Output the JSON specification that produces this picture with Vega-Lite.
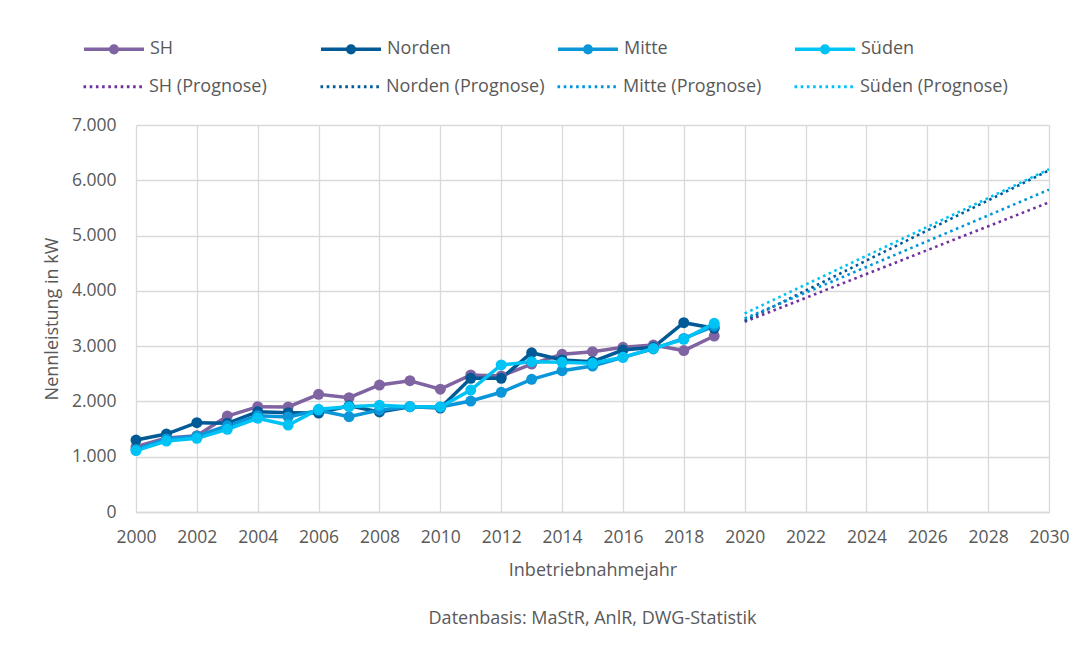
{
  "$schema": "https://vega.github.io/schema/vega-lite/v6.json",
  "width": 913,
  "height": 387,
  "autosize": "none",
  "padding": {"left": 136, "top": 125, "right": 34, "bottom": 140},
  "background": "white",
  "title": {"text": "Datenbasis: MaStR, AnlR, DWG-Statistik", "orient": "bottom", "anchor": "middle", "offset": 30, "fontSize": 18, "fontWeight": "normal", "color": "#595959", "font": "Open Sans"},
  "config": {
    "font": "Open Sans",
    "view": {"stroke": null},
    "axis": {"labelFont": "Open Sans", "titleFont": "Open Sans", "labelFontSize": 17.5, "titleFontSize": 18, "labelColor": "#595959", "titleColor": "#595959", "titleFontWeight": "normal", "gridColor": "#d9d9d9", "gridWidth": 1.3, "domainColor": "#d9d9d9", "domainWidth": 1.3},
    "legend": {"labelFont": "Open Sans", "labelFontSize": 18, "labelColor": "#595959"}
  },
  "datasets": {
    "hist": [
      {"year": 2000, "series": "SH", "kw": 1180}, {"year": 2001, "series": "SH", "kw": 1340}, {"year": 2002, "series": "SH", "kw": 1380}, {"year": 2003, "series": "SH", "kw": 1736}, {"year": 2004, "series": "SH", "kw": 1905},
      {"year": 2005, "series": "SH", "kw": 1900}, {"year": 2006, "series": "SH", "kw": 2128}, {"year": 2007, "series": "SH", "kw": 2067}, {"year": 2008, "series": "SH", "kw": 2297}, {"year": 2009, "series": "SH", "kw": 2375},
      {"year": 2010, "series": "SH", "kw": 2222}, {"year": 2011, "series": "SH", "kw": 2480}, {"year": 2012, "series": "SH", "kw": 2460}, {"year": 2013, "series": "SH", "kw": 2675}, {"year": 2014, "series": "SH", "kw": 2852},
      {"year": 2015, "series": "SH", "kw": 2900}, {"year": 2016, "series": "SH", "kw": 2980}, {"year": 2017, "series": "SH", "kw": 3020}, {"year": 2018, "series": "SH", "kw": 2920}, {"year": 2019, "series": "SH", "kw": 3183},
      {"year": 2000, "series": "Norden", "kw": 1302}, {"year": 2001, "series": "Norden", "kw": 1410}, {"year": 2002, "series": "Norden", "kw": 1615}, {"year": 2003, "series": "Norden", "kw": 1605}, {"year": 2004, "series": "Norden", "kw": 1815},
      {"year": 2005, "series": "Norden", "kw": 1797}, {"year": 2006, "series": "Norden", "kw": 1790}, {"year": 2007, "series": "Norden", "kw": 1920}, {"year": 2008, "series": "Norden", "kw": 1810}, {"year": 2009, "series": "Norden", "kw": 1905},
      {"year": 2010, "series": "Norden", "kw": 1880}, {"year": 2011, "series": "Norden", "kw": 2418}, {"year": 2012, "series": "Norden", "kw": 2418}, {"year": 2013, "series": "Norden", "kw": 2880}, {"year": 2014, "series": "Norden", "kw": 2750},
      {"year": 2015, "series": "Norden", "kw": 2720}, {"year": 2016, "series": "Norden", "kw": 2930}, {"year": 2017, "series": "Norden", "kw": 2980}, {"year": 2018, "series": "Norden", "kw": 3424}, {"year": 2019, "series": "Norden", "kw": 3323},
      {"year": 2000, "series": "Mitte", "kw": 1130}, {"year": 2001, "series": "Mitte", "kw": 1320}, {"year": 2002, "series": "Mitte", "kw": 1370}, {"year": 2003, "series": "Mitte", "kw": 1560}, {"year": 2004, "series": "Mitte", "kw": 1740},
      {"year": 2005, "series": "Mitte", "kw": 1720}, {"year": 2006, "series": "Mitte", "kw": 1840}, {"year": 2007, "series": "Mitte", "kw": 1724}, {"year": 2008, "series": "Mitte", "kw": 1845}, {"year": 2009, "series": "Mitte", "kw": 1905},
      {"year": 2010, "series": "Mitte", "kw": 1900}, {"year": 2011, "series": "Mitte", "kw": 2007}, {"year": 2012, "series": "Mitte", "kw": 2165}, {"year": 2013, "series": "Mitte", "kw": 2400}, {"year": 2014, "series": "Mitte", "kw": 2556},
      {"year": 2015, "series": "Mitte", "kw": 2640}, {"year": 2016, "series": "Mitte", "kw": 2800}, {"year": 2017, "series": "Mitte", "kw": 2950}, {"year": 2018, "series": "Mitte", "kw": 3140}, {"year": 2019, "series": "Mitte", "kw": 3360},
      {"year": 2000, "series": "Süden", "kw": 1110}, {"year": 2001, "series": "Süden", "kw": 1284}, {"year": 2002, "series": "Süden", "kw": 1333}, {"year": 2003, "series": "Süden", "kw": 1495}, {"year": 2004, "series": "Süden", "kw": 1695},
      {"year": 2005, "series": "Süden", "kw": 1573}, {"year": 2006, "series": "Süden", "kw": 1858}, {"year": 2007, "series": "Süden", "kw": 1905}, {"year": 2008, "series": "Süden", "kw": 1930}, {"year": 2009, "series": "Süden", "kw": 1905},
      {"year": 2010, "series": "Süden", "kw": 1900}, {"year": 2011, "series": "Süden", "kw": 2206}, {"year": 2012, "series": "Süden", "kw": 2659}, {"year": 2013, "series": "Süden", "kw": 2718}, {"year": 2014, "series": "Süden", "kw": 2707},
      {"year": 2015, "series": "Süden", "kw": 2690}, {"year": 2016, "series": "Süden", "kw": 2798}, {"year": 2017, "series": "Süden", "kw": 2960}, {"year": 2018, "series": "Süden", "kw": 3124}, {"year": 2019, "series": "Süden", "kw": 3413}
    ],
    "prog": [
      {"year": 2020, "series": "SH (Prognose)", "kw": 3440}, {"year": 2030, "series": "SH (Prognose)", "kw": 5600},
      {"year": 2020, "series": "Norden (Prognose)", "kw": 3460}, {"year": 2030, "series": "Norden (Prognose)", "kw": 6180},
      {"year": 2020, "series": "Mitte (Prognose)", "kw": 3500}, {"year": 2030, "series": "Mitte (Prognose)", "kw": 5830},
      {"year": 2020, "series": "Süden (Prognose)", "kw": 3590}, {"year": 2030, "series": "Süden (Prognose)", "kw": 6200}
    ]
  },
  "layer": [
    {
      "data": {"name": "hist"},
      "layer": [
        {
          "mark": {"type": "line", "strokeWidth": 3.5},
          "encoding": {
            "x": {"field": "year", "type": "quantitative", "scale": {"domain": [2000, 2030], "nice": false, "zero": false},
              "axis": {"values": [2000,2001,2002,2003,2004,2005,2006,2007,2008,2009,2010,2011,2012,2013,2014,2015,2016,2017,2018,2019,2020,2021,2022,2023,2024,2025,2026,2027,2028,2029,2030],
                "labelExpr": "datum.value % 2 === 0 ? toString(datum.value) : ''", "title": "Inbetriebnahmejahr", "ticks": false, "labelPadding": 16, "titlePadding": 16, "labelOverlap": false, "labelFlush": false,
                "gridColor": {"condition": {"test": "datum.value % 2 === 0", "value": "#d9d9d9"}, "value": "#ededed"}}},
            "y": {"field": "kw", "type": "quantitative", "scale": {"domain": [0, 7000], "nice": false},
              "axis": {"values": [0,1000,2000,3000,4000,5000,6000,7000], "labelExpr": "replace(format(datum.value, ','), ',', '.')", "title": "Nennleistung in kW", "ticks": false, "labelPadding": 20, "titlePadding": 10, "domain": false}},
            "color": {"field": "series", "type": "nominal",
              "scale": {"domain": ["SH", "Norden", "Mitte", "Süden"], "range": ["#8064a2", "#005a96", "#0a96d8", "#00c3f5"]},
              "legend": {"orient": "none", "legendX": -54, "legendY": -108, "direction": "horizontal", "columns": 4, "title": null,
                "symbolType": "M-1,0H1M0.11,0A0.11,0.11,0,1,1,-0.11,0A0.11,0.11,0,1,1,0.11,0M0.04,0A0.04,0.04,0,1,1,-0.04,0A0.04,0.04,0,1,1,0.04,0",
                "symbolSize": 3600, "symbolStrokeWidth": 3.5, "labelOffset": 4, "columnPadding": 100, "gridAlign": "all"}}
          }
        },
        {
          "mark": {"type": "point", "filled": true, "size": 120, "opacity": 1},
          "encoding": {
            "x": {"field": "year", "type": "quantitative"},
            "y": {"field": "kw", "type": "quantitative"},
            "color": {"field": "series", "type": "nominal"}
          }
        }
      ]
    },
    {
      "data": {"name": "prog"},
      "mark": {"type": "line", "strokeWidth": 2.6, "strokeDash": [2.6, 3.6]},
      "encoding": {
        "x": {"field": "year", "type": "quantitative"},
        "y": {"field": "kw", "type": "quantitative"},
        "color": {"field": "series", "type": "nominal",
          "scale": {"domain": ["SH (Prognose)", "Norden (Prognose)", "Mitte (Prognose)", "Süden (Prognose)"], "range": ["#7030a0", "#005a96", "#0096dc", "#00c3f5"]},
          "legend": {"orient": "none", "legendX": -54, "legendY": -70, "direction": "horizontal", "columns": 4, "title": null,
            "symbolType": "stroke", "symbolSize": 3600, "symbolStrokeWidth": 3, "symbolDash": [2.6, 3.6], "labelOffset": 4, "columnPadding": 6, "gridAlign": "all"}}
      }
    }
  ],
  "resolve": {"scale": {"color": "independent"}}
}
